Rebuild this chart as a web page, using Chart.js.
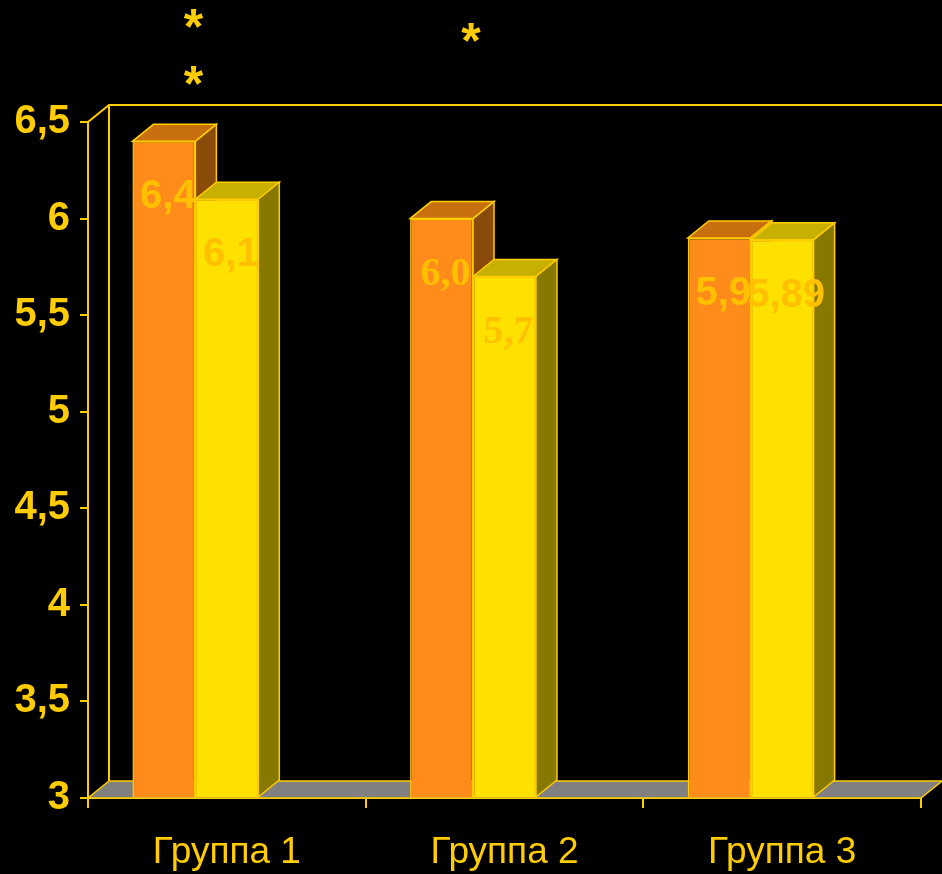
<!DOCTYPE html>
<html>
<head>
<meta charset="utf-8">
<script src="https://cdn.jsdelivr.net/npm/chart.js@4.4.1/dist/chart.umd.min.js"></script>
<style>
  html, body { margin: 0; padding: 0; background: #000; }
  #wrap { width: 942px; height: 874px; }
</style>
</head>
<body>
<div id="wrap"><canvas id="chart" width="942" height="874"></canvas></div>
<script>
// data
const categories = ['Группа 1', 'Группа 2', 'Группа 3'];
const seriesA = [6.4, 6.0, 5.9];
const seriesB = [6.1, 5.7, 5.89];
const valueLabelsA = ['6,4', '6,0', '5,9'];
const valueLabelsB = ['6,1', '5,7', '5,89'];
const valueFonts = ['"Liberation Sans"', '"Liberation Serif"', '"Liberation Sans"'];
const starCounts = [2, 1, 0];
const Y_MIN = 3, Y_MAX = 6.5, Y_STEP = 0.5;

const GOLD = '#FFCC00';
const DX = 21, DY = 17; // 3D depth

// face colors: front, top, side
const SHADES = [
  ['#FF8C1A', '#C87010', '#8A4A0A'],
  ['#FFE100', '#C8B000', '#867800']
];

function poly(ctx, pts, fill) {
  ctx.beginPath();
  ctx.moveTo(pts[0][0], pts[0][1]);
  for (let i = 1; i < pts.length; i++) ctx.lineTo(pts[i][0], pts[i][1]);
  ctx.closePath();
  ctx.fillStyle = fill;
  ctx.fill();
  ctx.strokeStyle = GOLD;
  ctx.lineWidth = 1.5;
  ctx.stroke();
}

function drawDepth(ctx, bar, shade) {
  const l = bar.x - bar.width / 2, r = bar.x + bar.width / 2;
  poly(ctx, [[l, bar.y], [r, bar.y], [r + DX, bar.y - DY], [l + DX, bar.y - DY]], shade[1]);
  poly(ctx, [[r, bar.y], [r + DX, bar.y - DY], [r + DX, bar.base - DY], [r, bar.base]], shade[2]);
}

const box3d = {
  id: 'box3d',
  beforeDatasetsDraw(chart) {
    const { ctx, chartArea: a } = chart;
    ctx.save();
    // floor
    poly(ctx, [[a.left, a.bottom], [a.right, a.bottom], [a.right + DX, a.bottom - DY], [a.left + DX, a.bottom - DY]], '#808080');
    // back wall edges
    ctx.strokeStyle = GOLD;
    ctx.lineWidth = 2;
    ctx.beginPath();
    ctx.moveTo(a.left, a.top);
    ctx.lineTo(a.left + DX, a.top - DY);
    ctx.lineTo(chart.width, a.top - DY);
    ctx.moveTo(a.left + DX, a.top - DY);
    ctx.lineTo(a.left + DX, a.bottom - DY);
    ctx.stroke();
    ctx.restore();
  },
  afterDatasetsDraw(chart) {
    const { ctx, chartArea: a } = chart;
    const metaA = chart.getDatasetMeta(0).data;
    const metaB = chart.getDatasetMeta(1).data;
    ctx.save();
    // per group: orange depth, then yellow front + depth on top of it
    categories.forEach((c, i) => {
      drawDepth(ctx, metaA[i], SHADES[0]);
      metaB[i].draw(ctx);
      drawDepth(ctx, metaB[i], SHADES[1]);
    });

    ctx.textAlign = 'center';
    ctx.textBaseline = 'middle';
    ctx.fillStyle = '#FFC000';
    [[metaA, valueLabelsA], [metaB, valueLabelsB]].forEach(([meta, labels]) => {
      meta.forEach((bar, i) => {
        ctx.font = 'bold 40px ' + valueFonts[i];
        ctx.fillText(labels[i], bar.x + 4, bar.y + 56);
      });
    });

    // significance asterisks
    const size = 50;
    ctx.fillStyle = GOLD;
    ctx.font = 'bold ' + size + 'px "Liberation Sans"';
    ctx.textBaseline = 'alphabetic';
    starCounts.forEach((n, i) => {
      if (!n) return;
      const x = metaA[i].x + metaA[i].width / 2 - 2;
      const centers = n === 2 ? [a.top - 100, a.top - 43] : [a.top - 86];
      centers.forEach(cy => ctx.fillText('*', x, cy + 0.43 * size));
    });
    ctx.restore();
  }
};

new Chart(document.getElementById('chart'), {
  type: 'bar',
  data: {
    labels: categories,
    datasets: [
      { data: seriesA, backgroundColor: SHADES[0][0], borderColor: GOLD, borderWidth: 1.5 },
      { data: seriesB, backgroundColor: SHADES[1][0], borderColor: GOLD, borderWidth: 1.5 },
      { data: [null, null, null] } // depth gap
    ]
  },
  options: {
    responsive: false,
    devicePixelRatio: 1,
    animation: false,
    layout: { padding: { top: 122, right: 21, left: 0, bottom: 0 } },
    datasets: { bar: { base: Y_MIN, barPercentage: 1, categoryPercentage: 0.68 } },
    plugins: { legend: { display: false }, tooltip: { enabled: false } },
    scales: {
      x: {
        afterFit: s => { s.height = 76; },
        grid: { offset: true, drawOnChartArea: false, color: GOLD, tickLength: 10, lineWidth: 2 },
        border: { color: GOLD, width: 2 },
        ticks: {
          color: GOLD,
          padding: 23,
          font: { family: '"Liberation Sans"', size: 37 }
        }
      },
      y: {
        min: Y_MIN,
        max: Y_MAX,
        afterFit: s => { s.width = 88; },
        grid: { drawOnChartArea: false, color: GOLD, tickLength: 8, lineWidth: 2 },
        border: { color: GOLD, width: 2 },
        ticks: {
          stepSize: Y_STEP,
          color: GOLD,
          padding: 10,
          font: { family: '"Liberation Sans"', size: 40, weight: 'bold' },
          callback: v => String(v).replace('.', ',')
        }
      }
    }
  },
  plugins: [box3d]
});
</script>
</body>
</html>
